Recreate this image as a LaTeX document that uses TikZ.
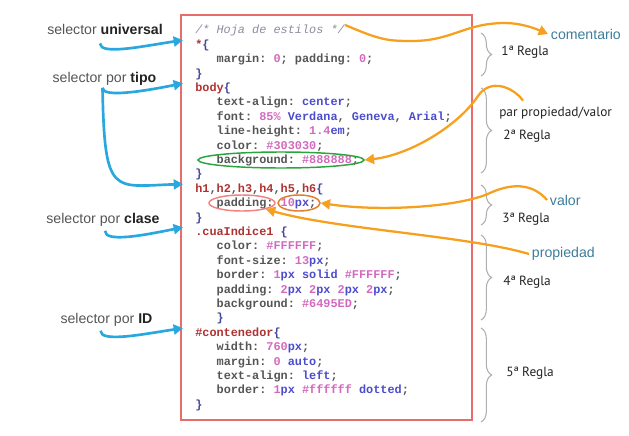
\documentclass[tikz,border=0pt]{standalone}
\usepackage{fontspec}
\setmainfont{Liberation Sans}
\setmonofont{Liberation Mono}
\newfontfamily\rulefont{PT Sans}
\usetikzlibrary{arrows.meta,calc,decorations.pathreplacing,shapes.geometric}

\definecolor{boxred}{RGB}{232,108,108}
\definecolor{selblue}{RGB}{41,168,224}
\definecolor{notorange}{RGB}{247,160,30}
\definecolor{bracegray}{RGB}{175,175,175}
\definecolor{labgray}{RGB}{85,85,85}
\definecolor{labdark}{RGB}{35,35,35}
\definecolor{noteteal}{RGB}{60,125,155}
\definecolor{csscom}{RGB}{140,140,160}
\definecolor{cssprop}{RGB}{85,85,85}
\definecolor{cssnum}{RGB}{210,105,190}
\definecolor{csskey}{RGB}{75,75,205}
\definecolor{csssel}{RGB}{175,50,50}
\definecolor{cssbr}{RGB}{70,70,150}
\definecolor{ringgreen}{RGB}{40,165,60}
\definecolor{ringpink}{RGB}{240,130,130}
\definecolor{ringorange}{RGB}{225,125,45}

\newcommand\cCom[1]{{\mdseries\itshape\color{csscom}#1}}
\newcommand\cSel[1]{\textcolor{csssel}{#1}}
\newcommand\cNum[1]{\textcolor{cssnum}{#1}}
\newcommand\cKey[1]{\textcolor{csskey}{#1}}
\newcommand\cBr[1]{\textcolor{cssbr}{#1}}
\newcommand\ind{\phantom{xxx}}
\newcommand\bw[1]{\textbf{\color{labdark}#1}}

\begin{document}
\begin{tikzpicture}[x=0.75pt,y=-0.75pt,>={Triangle[length=7pt,width=7.5pt]},
	code/.style={anchor=base west,inner sep=0pt,text=cssprop,font=\fontsize{8.9}{10}\selectfont\ttfamily\bfseries},
	sellab/.style={inner sep=0pt,text=labgray,font=\fontsize{10.6}{12}\selectfont},
	notelab/.style={anchor=west,inner sep=2pt,text=noteteal,font=\fontsize{10.6}{12}\selectfont},
	rulelab/.style={anchor=west,inner sep=0pt,text=labdark,font=\rulefont\fontsize{10}{12}\selectfont},
	ring/.style={ellipse,draw,line width=1.1pt,inner sep=0pt,minimum height=12pt},
	selarrow/.style={->,draw=selblue,line width=2pt},
	notearrow/.style={->,draw=notorange,line width=1.7pt},
	rulebrace/.style={draw=bracegray,line width=0.8pt,decorate,decoration={brace,amplitude=8pt}}]
	\useasboundingbox (0,0) rectangle (629,436);
	\draw[boxred,line width=1pt] (181,15) rectangle (472,420);
	\foreach \txt [count=\i from 0] in {
		{\cCom{/* Hoja de estilos */}},
		{\cSel{*}\cBr{\{}},
		{\ind margin: \cNum{0}; padding: \cNum{0};},
		{\cBr{\}}},
		{\cSel{body}\cBr{\{}},
		{\ind text-align: \cKey{center};},
		{\ind font: \cNum{85\%} \cKey{Verdana}, \cKey{Geneva}, \cKey{Arial};},
		{\ind line-height: \cNum{1.4}\cKey{em};},
		{\ind color: \cNum{\#303030};},
		{\ind background: \cNum{\#888888};},
		{\cBr{\}}},
		{\cSel{h1},\cSel{h2},\cSel{h3},\cSel{h4},\cSel{h5},\cSel{h6}\cBr{\{}},
		{\ind padding: \cNum{10}\cKey{px};},
		{\cBr{\}}},
		{\cSel{.cuaIndice1} \cBr{\{}},
		{\ind color: \cNum{\#FFFFFF};},
		{\ind font-size: \cNum{13}\cKey{px};},
		{\ind border: \cNum{1}\cKey{px solid} \cNum{\#FFFFFF};},
		{\ind padding: \cNum{2}\cKey{px} \cNum{2}\cKey{px} \cNum{2}\cKey{px} \cNum{2}\cKey{px};},
		{\ind background: \cNum{\#6495ED};},
		{\ind\cBr{\}}},
		{\cSel{\#contenedor}\cBr{\{}},
		{\ind width: \cNum{760}\cKey{px};},
		{\ind margin: \cNum{0} \cKey{auto};},
		{\ind text-align: \cKey{left};},
		{\ind border: \cNum{1}\cKey{px} \cNum{\#ffffff} \cKey{dotted};},
		{\cBr{\}}}}
		\node[code] (l\i) at (195,{33.8+14.4*\i}) {\txt};
	\node[ring,draw=ringgreen,minimum width=124.5pt] (bg) at (281,160) {};
	\node[ring,draw=ringpink,minimum width=49.5pt] (pad) at (242,203) {};
	\node[ring,draw=ringorange,minimum width=31.5pt] (val) at (299,203) {};
	\node[sellab] (lu) at (105,29) {selector \bw{universal}};
	\node[sellab] (lt) at (104.5,79) {selector por \bw{tipo}};
	\node[sellab] (lc) at (103,220) {selector por \bw{clase}};
	\node[sellab] (li) at (106.5,320) {selector por \bw{ID}};
	\draw[selarrow] ($(lu.south)+(-5,9)$) .. controls +(0,12) and +(-40,6) .. ($(l1.west)+(-12,-5)$);
	\draw[selarrow] ($(lt.south)+(-2,2)$) .. controls +(0,10) and +(-40,8) .. ($(l4.west)+(-12,-5)$);
	\draw[selarrow] ($(lt.south)+(-2,2)$) .. controls +(2,110) and +(-70,2) .. ($(l11.west)+(-12,-5)$);
	\draw[selarrow] ($(lc.south)+(2,4)$) .. controls +(0,12) and +(-40,8) .. ($(l14.west)+(-12,-5)$);
	\draw[selarrow] ($(li.south)+(-6,4)$) .. controls +(0,12) and +(-40,6) .. ($(l21.west)+(-12,-5)$);
	\foreach \a/\b/\x/\y [count=\nr] in {33/76/501/52,88/173/503/136,185/225/502/219,235/320/503/282,328/422/506/373}{
		\draw[rulebrace] (481,\a) -- (481,\b);
		\node[rulelab] (r\nr) at (\x,\y) {\nr{}ª Regla};
	}
	\node[notelab] (lcom) at (548,34) {comentario};
	\node[rulelab] (lpar) at (499,113) {par propiedad/valor};
	\node[notelab] (lval) at (547,200) {valor};
	\node[notelab] (lprop) at (529,254) {propiedad};
	\draw[notearrow] (l0.north east) .. controls +(35,15) and +(-25,0) .. (412,41) .. controls +(40,0) and +(-40,0) .. (505,23) .. controls +(15,0) and +(-14,-6) .. (lcom.west);
	\draw[notearrow] ($(lpar.north west)+(24,-6)$) .. controls +(-10,-14) and +(12,-18) .. (478,96) .. controls +(-20,30) and +(45,-5) .. (bg.east);
	\draw[notearrow] (lval.west) .. controls +(-12,-14) and +(26,-12) .. (490,193) .. controls +(-30,14) and +(60,9) .. (val.east);
	\draw[notearrow] (lprop.west) .. controls +(-60,-18) and +(70,20) .. (pad.south east);
\end{tikzpicture}
\end{document}
